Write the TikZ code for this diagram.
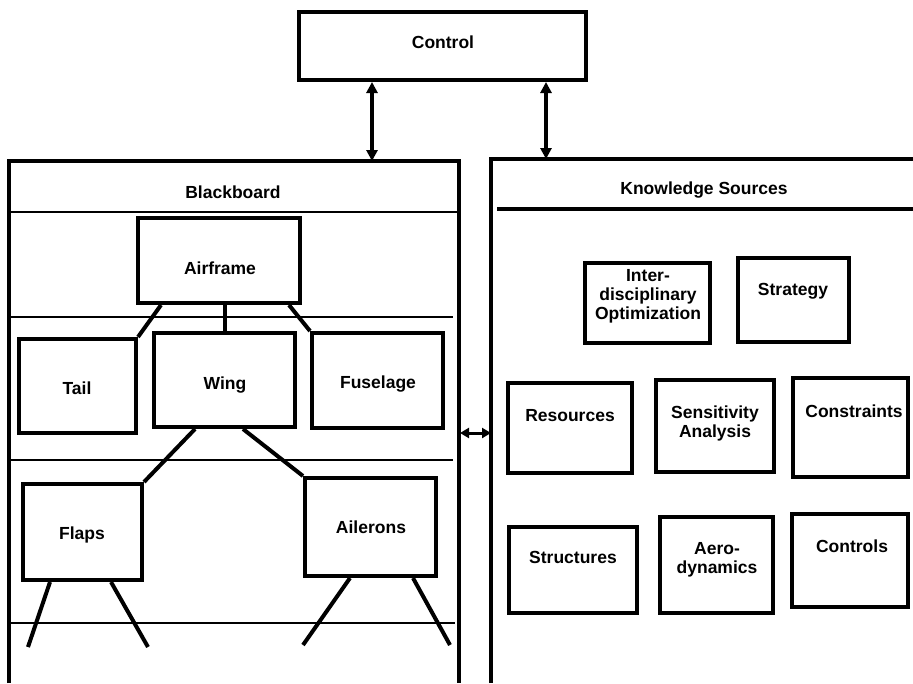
\documentclass[tikz,border=0pt]{standalone}
\usepackage{fontspec}
\setmainfont{Liberation Sans}
\usetikzlibrary{arrows.meta,calc}
\begin{document}
\begin{tikzpicture}[x=1pt,y=-1pt,
  bx/.style={draw, line width=4pt, inner sep=0pt},
  txt/.style={font=\bfseries\fontsize{17.5}{19}\selectfont, inner sep=0pt, text height=12.5pt, text depth=0pt},
  mtxt/.style={font=\bfseries\fontsize{17.5}{19}\selectfont, inner sep=0pt, align=center},
  outer/.style={line width=3.5pt},
  divider/.style={line width=2.5pt},
  conn/.style={line width=4pt},
  arr/.style={line width=3.5pt, {Triangle[length=11pt,width=11pt]}-{Triangle[length=11pt,width=11pt]}},
  sarr/.style={line width=3pt, {Triangle[length=9pt,width=10pt]}-{Triangle[length=9pt,width=10pt]}}
]
\useasboundingbox (0,0) rectangle (913,683);

% Control
\node[bx, minimum width=287pt, minimum height=68pt] (control) at (442.5,46) {};
\node[txt] (controlt) at (443,42) {Control};

% Blackboard frame
\coordinate (bbtl) at (9,161);
\coordinate (bbtr) at (459,161);
\draw[outer] (9,683) -- (bbtl) -- (bbtr) -- (459,683);
\draw[divider] (9,212) -- (459,212);
\draw[divider] (9,317) -- (453,317);
\draw[divider] (9,460) -- (453,460);
\draw[divider] (9,623) -- (455,623);
\node[txt] (bbt) at (233,192) {Blackboard};

% Knowledge frame
\coordinate (kstl) at (491,159);
\coordinate (kstr) at (913,159);
\draw[outer] (491,683) -- (kstl) -- (kstr);
\draw[divider, line width=3.5pt] (497,209) -- (913,209);
\node[txt] (kst) at (704,188) {Knowledge Sources};

% Arrows
\coordinate (bbarr) at (372,161);
\coordinate (ksarr) at (546,159);
\draw[arr] (control.south -| bbarr) -- (bbarr);
\draw[arr] (control.south -| ksarr) -- (ksarr);
\coordinate (bbside) at (460,433);
\coordinate (ksside) at (491,433);
\draw[sarr] (bbside) -- (ksside);

% Blackboard boxes
\node[bx, minimum width=162pt, minimum height=85pt] (airframe) at (219,260.5) {};
\node[txt] at (220,268) {Airframe};
\node[bx, minimum width=117pt, minimum height=94pt] (tail) at (77.5,386) {};
\node[txt] at (77,388) {Tail};
\node[bx, minimum width=141pt, minimum height=94pt] (wing) at (224.5,380) {};
\node[txt] at (225,383) {Wing};
\node[bx, minimum width=131pt, minimum height=95pt] (fuselage) at (377.5,380.5) {};
\node[txt] at (378,382) {Fuselage};
\node[bx, minimum width=119pt, minimum height=96pt] (flaps) at (82.5,532) {};
\node[txt] at (82,533) {Flaps};
\node[bx, minimum width=131pt, minimum height=98pt] (ailerons) at (370.5,527) {};
\node[txt] at (371,527) {Ailerons};

% Connectors in blackboard
\draw[conn] ($(airframe.south west)+(25,0)$) -- (tail.north east);
\draw[conn] (airframe.south -| wing.north) -- (wing.north);
\draw[conn] ($(airframe.south east)+(-13,0)$) -- (fuselage.north west);
\draw[conn] ($(wing.south west)+(43,0)$) -- (flaps.north east);
\draw[conn] ($(wing.south west)+(91,0)$) -- (ailerons.north west);
\coordinate (f1) at (28,647);
\coordinate (f2) at (148,647);
\coordinate (a1) at (303,645);
\coordinate (a2) at (450,645);
\draw[conn] ($(flaps.south west)+(29,0)$) -- (f1);
\draw[conn] ($(flaps.south west)+(90,0)$) -- (f2);
\draw[conn] ($(ailerons.south west)+(47,0)$) -- (a1);
\draw[conn] ($(ailerons.south west)+(110,0)$) -- (a2);

% Knowledge source boxes
\node[bx, minimum width=125pt, minimum height=80pt] (idopt) at (647.5,303) {};
\node[mtxt] at (648,296) {Inter-\\disciplinary\\Optimization};
\node[bx, minimum width=111pt, minimum height=84pt] (strategy) at (793.5,300) {};
\node[txt] at (793,289) {Strategy};
\node[bx, minimum width=124pt, minimum height=90pt] (resources) at (570,428) {};
\node[txt] at (570,415) {Resources};
\node[bx, minimum width=118pt, minimum height=92pt] (sensitivity) at (715,426) {};
\node[mtxt] at (715,423) {Sensitivity\\Analysis};
\node[bx, minimum width=115pt, minimum height=99pt] (constraints) at (850.5,427.5) {};
\node[txt] at (854,411) {Constraints};
\node[bx, minimum width=128pt, minimum height=86pt] (structures) at (573,570) {};
\node[txt] at (573,557) {Structures};
\node[bx, minimum width=113pt, minimum height=96pt] (aero) at (716.5,565) {};
\node[mtxt] at (717,560) {Aero-\\dynamics};
\node[bx, minimum width=116pt, minimum height=93pt] (controls) at (850,560.5) {};
\node[txt] at (852,546) {Controls};
\end{tikzpicture}
\end{document}
